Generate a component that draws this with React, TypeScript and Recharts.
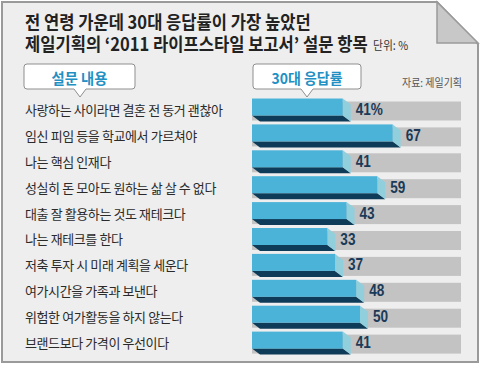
import { BarChart, Bar, XAxis, YAxis, LabelList } from "recharts";

const items = [
  "사랑하는 사이라면 결혼 전 동거 괜찮아",
  "임신 피임 등을 학교에서 가르쳐야",
  "나는 핵심 인재다",
  "성실히 돈 모아도 원하는 삶 살 수 없다",
  "대출 잘 활용하는 것도 재테크다",
  "나는 재테크를 한다",
  "저축 투자 시 미래 계획을 세운다",
  "여가시간을 가족과 보낸다",
  "위험한 여가활동을 하지 않는다",
  "브랜드보다 가격이 우선이다",
];
const rates30s = [41, 67, 41, 59, 43, 33, 37, 48, 50, 41];

const titleLines = [
  "전 연령 가운데 30대 응답률이 가장 높았던",
  "제일기획의 ‘2011 라이프스타일 보고서’ 설문 항목",
];
const unitText = "단위: %";
const sourceText = "자료: 제일기획";
const leftHeader = "설문 내용";
const rightHeader = "30대 응답률";

const data = items.map((item, i) => ({ item, rate: rates30s[i] }));

const KR = "'Noto Sans CJK KR', 'Noto Sans', sans-serif";
const NUM = "'Liberation Sans', 'Roboto', sans-serif";

const BLUE = "#4cb3d8";
const DARK = "#0e3b58";
const SIDE = "#91cfdd";
const GRAY = "#c3c3c3";

// 3D-ish bar: light top face, dark slanted bottom, pale side face
const Bar3D = (props: any) => {
  const { x, y, width, height, background } = props;
  const left = background ? background.x : x;
  const right = x + width;
  const top = y;
  const faceH = height - 6;
  const d = 8;
  return (
    <g>
      <polygon
        points={`${left},${top + faceH} ${right},${top + faceH} ${right + d},${top + height} ${left + d},${top + height}`}
        fill={DARK}
      />
      <polygon
        points={`${right},${top} ${right + d},${top + 6} ${right + d},${top + height} ${right},${top + faceH}`}
        fill={SIDE}
      />
      <rect x={left} y={top} width={right - left} height={faceH} fill={BLUE} />
    </g>
  );
};

const BarBg = (props: any) => {
  const { x, y, width, height } = props;
  return <rect x={x} y={y + 3} width={width} height={height - 4} fill={GRAY} />;
};

const ItemTick = (props: any) => {
  const { y, payload } = props;
  return (
    <text
      x={25}
      y={y}
      dy={4.5}
      textAnchor="start"
      fontFamily={KR}
      fontSize={13}
      letterSpacing={-0.4}
      fill="#2a2a2a"
    >
      {payload.value}
    </text>
  );
};

const ValueLabel = (props: any) => {
  const { x, y, width, height, value, index } = props;
  const tx = x + width + 13;
  const ty = y + height / 2 + 5;
  return (
    <text
      transform={`translate(${tx},${ty}) scale(0.8,1)`}
      fontFamily={NUM}
      fontWeight="bold"
      fontSize={17}
      fill="#1b3a57"
    >
      {index === 0 ? `${value}%` : value}
    </text>
  );
};

const Callout = ({ x, w, tipX, text, textW }: any) => (
  <g>
    <path
      d={`M${x + 3},64 H${x + w - 3} Q${x + w},64 ${x + w},67 V86 Q${x + w},89 ${x + w - 3},89 H${tipX + 6} L${tipX},97 L${tipX - 6},89 H${x + 3} Q${x},89 ${x},86 V67 Q${x},64 ${x + 3},64 Z`}
      fill="#fff"
      stroke="#8f8f8f"
      strokeWidth={1}
    />
    <text
      x={x + w / 2}
      y={84}
      textAnchor="middle"
      fontFamily={KR}
      fontWeight="bold"
      fontSize={15}
      fill="#2390c4"
      textLength={textW}
      lengthAdjust="spacingAndGlyphs"
    >
      {text}
    </text>
  </g>
);

export default function App() {
  return (
    <div style={{ position: "absolute", left: 0, top: 0, width: 480, height: 366, background: "#fff" }}>
      <svg width={480} height={366} style={{ position: "absolute", left: 0, top: 0 }}>
        <path d="M2,2 H437 L478,44 V362 H2 Z" fill="#eeeeee" stroke="#9a9a9a" strokeWidth={2} />
        <path d="M437,2 V43 H478 Z" fill="#c8c8c8" stroke="#9a9a9a" strokeWidth={1.5} />
      </svg>
      <div style={{ position: "absolute", left: 0, top: 0 }}>
        <BarChart
          width={480}
          height={366}
          data={data}
          layout="vertical"
          margin={{ top: 97.5, right: 19, bottom: 9.5, left: 0 }}
        >
          <XAxis type="number" hide domain={[-6.25, 102.6]} allowDataOverflow />
          <YAxis
            type="category"
            dataKey="item"
            width={252}
            axisLine={false}
            tickLine={false}
            tick={<ItemTick />}
            interval={0}
          />
          <Bar
            dataKey="rate"
            barSize={23}
            shape={<Bar3D />}
            background={<BarBg />}
            isAnimationActive={false}
          >
            <LabelList dataKey="rate" content={<ValueLabel />} />
          </Bar>
        </BarChart>
      </div>
      <svg width={480} height={366} style={{ position: "absolute", left: 0, top: 0, pointerEvents: "none" }}>
        <text transform="translate(25,29) scale(0.92,1)" fontFamily={KR} fontWeight="bold" fontSize={18} fill="#222">
          {titleLines[0]}
        </text>
        <text transform="translate(25,51) scale(0.92,1)" fontFamily={KR} fontWeight="bold" fontSize={18} fill="#222">
          {titleLines[1]}
        </text>
        <text transform="translate(373,50) scale(0.9,1)" fontFamily={KR} fontSize={12} fill="#333">
          {unitText}
        </text>
        <Callout x={24} w={111} tipX={80} text={leftHeader} textW={56} />
        <Callout x={253} w={108} tipX={307} text={rightHeader} textW={71} />
        <text x={402} y={87} fontFamily={KR} fontSize={11} fill="#555"
          textLength={60} lengthAdjust="spacingAndGlyphs">
          {sourceText}
        </text>
      </svg>
    </div>
  );
}
